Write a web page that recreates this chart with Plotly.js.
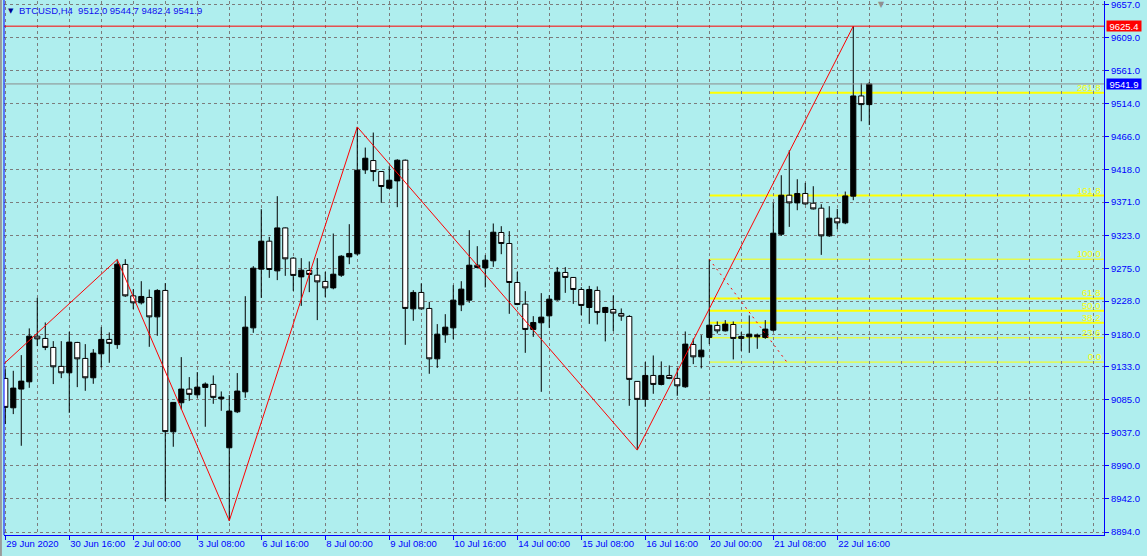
<!DOCTYPE html>
<html><head><meta charset="utf-8">
<script src="https://cdn.plot.ly/plotly-3.0.1.min.js"></script>
<style>html,body{margin:0;padding:0;background:#AFEEEE;overflow:hidden}#chart{width:1147px;height:556px}</style>
</head><body><div id="chart"></div>
<script>
// ---- data (BTCUSD H4, bar 0 = 29 Jun 2020 08:00) ----
const symbolTitle = 'BTCUSD,H4';
const open = [9116.1, 9073.6, 9100.7, 9111.2, 9177.2, 9173.9, 9160.9, 9133.5, 9124.2, 9168.1,
  9145.0, 9117.0, 9151.7, 9172.5, 9165.0, 9280.9, 9235.5, 9225.4, 9233.2, 9205.1,
  9243.3, 9038.9, 9080.9, 9100.7, 9092.4, 9103.1, 9107.4, 9086.6, 9015.8, 9067.8,
  9096.7, 9189.2, 9274.1, 9314.5, 9271.6, 9333.7, 9290.0, 9262.9, 9272.2, 9265.4,
  9256.3, 9247.0, 9265.4, 9291.8, 9296.2, 9417.6, 9431.1, 9415.2, 9391.1, 9401.7,
  9431.6, 9216.7, 9240.4, 9217.3, 9144.4, 9179.1, 9189.2, 9222.5, 9229.3, 9279.8,
  9275.9, 9286.1, 9327.1, 9311.2, 9254.8, 9223.5, 9186.9, 9196.5, 9206.6, 9229.7,
  9269.3, 9262.1, 9244.7, 9218.7, 9243.3, 9211.5, 9215.8, 9210.0, 9205.7, 9111.8,
  9085.8, 9120.4, 9107.4, 9120.4, 9116.1, 9104.0, 9165.2, 9147.3, 9175.4, 9192.7,
  9184.9, 9194.1, 9176.8, 9176.2, 9176.2, 9175.4, 9185.9, 9324.6, 9381.0, 9369.9,
  9383.5, 9369.4, 9362.2, 9322.2, 9347.8, 9341.0, 9379.6, 9524.5, 9512.0];
const high = [9129.1, 9127.1, 9149.8, 9188.4, 9232.6, 9197.0, 9170.0, 9170.0, 9183.5, 9169.0,
  9165.7, 9158.5, 9190.2, 9182.6, 9288.1, 9288.5, 9245.2, 9256.7, 9244.7, 9245.2,
  9253.8, 9081.9, 9146.9, 9118.0, 9125.2, 9110.3, 9120.4, 9097.3, 9092.0, 9123.8,
  9235.0, 9278.4, 9360.8, 9320.7, 9379.6, 9334.3, 9291.4, 9290.0, 9285.2, 9290.0,
  9270.2, 9325.6, 9294.3, 9339.1, 9479.7, 9449.9, 9471.6, 9416.0, 9422.9, 9433.0,
  9432.6, 9243.7, 9253.4, 9226.8, 9194.6, 9209.0, 9250.9, 9256.7, 9330.4, 9307.3,
  9294.3, 9340.1, 9336.2, 9329.0, 9270.2, 9242.3, 9206.1, 9239.4, 9236.5, 9277.0,
  9277.0, 9262.5, 9248.0, 9249.9, 9249.1, 9219.6, 9236.1, 9217.3, 9207.6, 9112.2,
  9139.7, 9149.3, 9140.7, 9134.9, 9131.0, 9184.0, 9173.9, 9178.7, 9288.5, 9198.5,
  9200.4, 9198.5, 9183.0, 9207.2, 9181.0, 9200.4, 9369.9, 9409.9, 9446.0, 9404.1,
  9398.8, 9394.0, 9368.0, 9365.1, 9361.2, 9386.3, 9625.4, 9542.8, 9544.7];
const low = [9050.1, 9064.5, 9018.7, 9102.5, 9162.8, 9157.0, 9107.9, 9116.5, 9066.4, 9103.5,
  9098.2, 9108.3, 9132.0, 9138.7, 9158.9, 9234.0, 9216.3, 9223.0, 9161.8, 9177.7,
  8938.8, 9017.3, 9071.3, 9083.7, 9088.1, 9046.2, 9079.4, 9069.3, 8910.3, 9066.0,
  9088.1, 9182.0, 9232.6, 9261.5, 9258.2, 9264.4, 9242.7, 9221.0, 9240.8, 9200.4,
  9233.6, 9245.0, 9262.9, 9281.3, 9294.0, 9411.8, 9401.2, 9369.9, 9389.7, 9363.7,
  9164.7, 9199.4, 9215.8, 9122.8, 9131.4, 9167.6, 9172.9, 9213.4, 9225.4, 9275.0,
  9247.6, 9277.4, 9295.7, 9209.5, 9222.0, 9153.1, 9176.2, 9096.7, 9189.2, 9228.5,
  9239.8, 9223.9, 9207.6, 9195.0, 9194.1, 9169.6, 9184.5, 9199.4, 9076.5, 9012.5,
  9075.1, 9093.9, 9106.0, 9115.0, 9091.0, 9102.5, 9136.8, 9130.6, 9165.7, 9181.1,
  9184.0, 9143.6, 9156.0, 9153.1, 9158.9, 9173.3, 9184.0, 9322.0, 9335.2, 9359.3,
  9367.0, 9360.3, 9294.7, 9320.7, 9331.9, 9339.1, 9373.8, 9487.9, 9482.4];
const close = [9074.2, 9102.1, 9112.2, 9177.2, 9173.3, 9160.9, 9132.9, 9124.2, 9168.6, 9144.4,
  9117.0, 9152.7, 9172.5, 9166.7, 9281.3, 9235.5, 9225.4, 9234.6, 9205.1, 9243.3,
  9039.2, 9081.4, 9100.7, 9093.0, 9103.5, 9107.9, 9088.7, 9089.1, 9068.9, 9097.8,
  9190.2, 9275.5, 9314.5, 9273.6, 9333.7, 9289.0, 9265.0, 9272.6, 9266.4, 9255.7,
  9247.0, 9266.8, 9292.8, 9296.8, 9417.1, 9434.5, 9415.2, 9393.6, 9402.7, 9431.6,
  9217.3, 9240.4, 9216.7, 9144.4, 9180.1, 9190.2, 9229.3, 9245.2, 9279.8, 9276.5,
  9287.1, 9327.5, 9311.2, 9254.8, 9223.0, 9186.9, 9197.0, 9204.7, 9230.7, 9269.7,
  9262.1, 9244.7, 9221.6, 9244.7, 9211.5, 9218.7, 9210.5, 9206.1, 9114.7, 9085.8,
  9120.4, 9107.4, 9120.4, 9116.1, 9105.4, 9165.7, 9147.3, 9157.0, 9193.1, 9184.9,
  9194.6, 9173.9, 9173.9, 9180.1, 9178.7, 9187.4, 9326.1, 9381.0, 9369.9, 9383.5,
  9368.4, 9361.2, 9322.2, 9347.8, 9341.0, 9380.0, 9524.5, 9512.0, 9541.9];

const xTickBars = [0, 8, 16, 24, 32, 40, 48, 56, 64, 72, 80, 88, 96, 104];
const xTickText = ['29 Jun 2020', '30 Jun 16:00', '2 Jul 00:00', '3 Jul 08:00', '6 Jul 16:00',
  '8 Jul 00:00', '9 Jul 08:00', '10 Jul 16:00', '14 Jul 00:00', '15 Jul 08:00',
  '16 Jul 16:00', '20 Jul 00:00', '21 Jul 08:00', '22 Jul 16:00'];
const yTickVals = [8894.0, 8942.0, 8990.0, 9037.0, 9085.0, 9133.0, 9180.0, 9228.0, 9275.0,
  9323.0, 9371.0, 9418.0, 9466.0, 9514.0, 9561.0, 9609.0, 9657.0];

// ZigZag pivots (bar index, price)
const zigzagBars = [-1, 14, 28, 44, 79, 106];
const zigzagPrices = [9128.4, 9288.1, 8910.3, 9479.7, 9012.5, 9625.4];

// Fibonacci retracement (anchor 100 -> anchor 0)
const fibAnchorBars = [88, 97.7];
const fibAnchorPrices = [9288.5, 9139.7];
const fibLevels = [0.0, 23.6, 38.2, 50.0, 61.8, 100.0, 161.8, 261.8];
const fibWidths = [1, 1, 2, 2, 2, 1, 2, 2];

const maxHigh = 9625.4;
const lastPrice = 9541.9;
const xRange = [-0.16, 137.34];
const yRange = [8889.7, 9661.8];

// ---- build ----
const bars = open.map((_, i) => i);
const last = open.length - 1;
const blue = '#0000FF';
const gridCol = '#7c7c7c';
const font = 'Liberation Sans, Arial, sans-serif';

const traces = [
  {
    type: 'candlestick', x: bars, open: open, high: high, low: low, close: close,
    increasing: {line: {color: '#000000', width: 1}, fillcolor: '#000000'},
    decreasing: {line: {color: '#000000', width: 1}, fillcolor: '#FFFFFF'},
    whiskerwidth: 0, hoverinfo: 'skip'
  },
  {
    type: 'scatter', mode: 'lines', x: zigzagBars, y: zigzagPrices,
    line: {color: '#FF0000', width: 1}, hoverinfo: 'skip'
  },
  {
    type: 'scatter', mode: 'lines', x: fibAnchorBars, y: fibAnchorPrices,
    line: {color: '#FF0000', width: 1, dash: '2px,4px'}, hoverinfo: 'skip'
  }
];

const shapes = [];
const annotations = [];
const fibHi = fibAnchorPrices[0], fibLo = fibAnchorPrices[1];
fibLevels.forEach((lv, k) => {
  const p = fibLo + (fibHi - fibLo) * lv / 100;
  shapes.push({type: 'line', xref: 'x', yref: 'y', x0: fibAnchorBars[0], x1: xRange[1], y0: p, y1: p,
    line: {color: '#FFFF00', width: fibWidths[k]}, layer: 'below'});
  annotations.push({xref: 'paper', x: 1, xanchor: 'right', xshift: -2, yref: 'y', y: p, yanchor: 'bottom',
    yshift: -1, text: lv.toFixed(1), showarrow: false, font: {family: font, size: 9.5, color: '#FFFF00'}, borderpad: 0});
});
// max-high line and bid line
shapes.push({type: 'line', xref: 'paper', x0: 0, x1: 1, yref: 'y', y0: maxHigh, y1: maxHigh,
  line: {color: '#FF0000', width: 1}});
shapes.push({type: 'line', xref: 'paper', x0: 0, x1: 1, yref: 'y', y0: lastPrice, y1: lastPrice,
  line: {color: '#8c8c8c', width: 1}});
// left border of the chart and window frame
shapes.push({type: 'line', xref: 'paper', x0: 0, x1: 0, yref: 'paper', y0: 0, y1: 1.01,
  line: {color: blue, width: 1}});
shapes.push({type: 'line', xref: 'paper', x0: -0.0028, x1: -0.0028, yref: 'paper', y0: -0.05, y1: 1.01,
  line: {color: '#9a9a9a', width: 2}});

annotations.push({xref: 'paper', x: 1, xanchor: 'left', xshift: 2, yref: 'y', y: maxHigh, yanchor: 'middle',
  text: maxHigh.toFixed(1), showarrow: false, bgcolor: '#FF0000', width: 34, height: 10, borderpad: 0,
  font: {family: font, size: 9.5, color: '#FFFFFF'}});
annotations.push({xref: 'paper', x: 1, xanchor: 'left', xshift: 2, yref: 'y', y: lastPrice, yanchor: 'middle',
  text: lastPrice.toFixed(1), showarrow: false, bgcolor: '#0000FF', width: 34, height: 10, borderpad: 0,
  font: {family: font, size: 9.5, color: '#FFFFFF'}});
annotations.push({xref: 'paper', x: 0, xanchor: 'left', xshift: 14, yref: 'paper', y: 1, yanchor: 'top', yshift: -3,
  text: symbolTitle + '\u00a0\u00a0' + [open[last], high[last], low[last], close[last]].map(v => v.toFixed(1)).join(' '),
  showarrow: false, font: {family: font, size: 9.5, color: '#1010F0'}, borderpad: 0});
annotations.push({xref: 'paper', x: 0, xanchor: 'left', xshift: 3, yref: 'paper', y: 1, yanchor: 'top', yshift: -5,
  text: '\u25BC', showarrow: false, font: {family: 'DejaVu Sans', size: 7, color: '#000090'}, borderpad: 0});
annotations.push({xref: 'paper', x: 0.798, xanchor: 'center', yref: 'paper', y: 1, yanchor: 'top', yshift: 2,
  text: '\u25BC', showarrow: false, font: {family: 'DejaVu Sans', size: 8, color: '#909090'}, borderpad: 0});

const layout = {
  width: 1147, height: 556,
  margin: {l: 4, r: 43, t: 1, b: 21, pad: 0},
  paper_bgcolor: '#AFEEEE', plot_bgcolor: '#AFEEEE',
  showlegend: false,
  boxgap: 0.36, boxgroupgap: 0,
  font: {family: font, size: 9.5, color: blue},
  xaxis: {
    range: xRange, rangeslider: {visible: false},
    tickmode: 'array', tickvals: xTickBars, ticktext: xTickText,
    ticks: 'outside', ticklen: 4, tickwidth: 1, tickcolor: blue,
    ticklabelposition: 'outside right',
    tickfont: {family: font, size: 9.5, color: blue},
    showline: true, linecolor: blue, linewidth: 1,
    showgrid: true, gridcolor: gridCol, gridwidth: 1, griddash: '3px,3px',
    minor: {tickmode: 'linear', tick0: 0, dtick: 4, showgrid: true, gridcolor: gridCol, gridwidth: 1, griddash: '3px,3px', ticks: ''},
    zeroline: false, fixedrange: true
  },
  yaxis: {
    side: 'right', range: yRange,
    tickmode: 'array', tickvals: yTickVals, ticktext: yTickVals.map(v => v.toFixed(1)),
    ticks: 'outside', ticklen: 4, tickwidth: 1, tickcolor: blue,
    ticklabeloverflow: 'allow',
    tickfont: {family: font, size: 9.5, color: blue},
    showline: true, linecolor: blue, linewidth: 1,
    showgrid: true, gridcolor: gridCol, gridwidth: 1, griddash: '3px,3px',
    zeroline: false, fixedrange: true
  },
  shapes: shapes,
  annotations: annotations
};

Plotly.newPlot('chart', traces, layout, {staticPlot: true, displayModeBar: false});
</script>
</body></html>
